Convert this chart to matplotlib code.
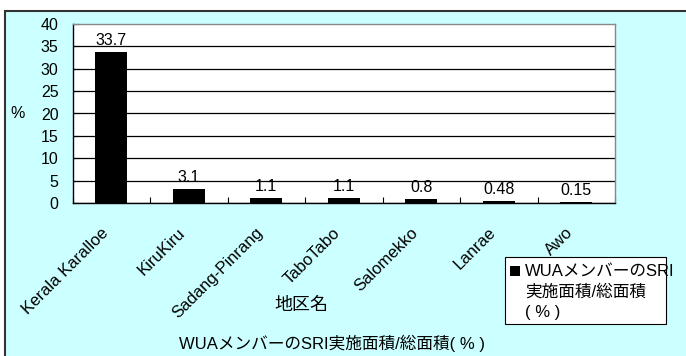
import matplotlib
matplotlib.use("Agg")
import matplotlib.pyplot as plt
from matplotlib.patches import Rectangle
from matplotlib.transforms import ScaledTranslation

plt.rcParams["font.family"] = ["Liberation Sans", "Noto Sans CJK JP", "DejaVu Sans"]

# ---- data ----
districts = ["Kerala Karalloe", "KiruKiru", "Sadang-Pinrang", "TaboTabo",
             "Salomekko", "Lanrae", "Awo"]
sri_ratio = [33.7, 3.1, 1.1, 1.1, 0.8, 0.48, 0.15]
value_labels = ["33.7", "3.1", "1.1", "1.1", "0.8", "0.48", "0.15"]
y_ticks = [0, 5, 10, 15, 20, 25, 30, 35, 40]

x_title = "地区名"
chart_title = "WUAメンバーのSRI実施面積/総面積( % )"
legend_lines = ["WUAメンバーのSRI", "実施面積/総面積", "( % )"]

W, H = 686, 356
fig = plt.figure(figsize=(W / 100, H / 100), dpi=100)
fig.patch.set_facecolor("white")

def fx(px):
    return px / W

def fy(py):
    return 1 - py / H

# cyan chart area with dark frame (runs off the right/bottom edge)
frame = Rectangle((fx(5), -0.1), 1.2, fy(11) + 0.1, transform=fig.transFigure,
                  facecolor="#ccffff", edgecolor="#333333", lw=1.5, zorder=-10)
fig.patches.append(frame)

ax = fig.add_axes([fx(72.5), fy(203), fx(615) - fx(72.5), fy(24) - fy(203)])
ax.set_facecolor("white")

x = list(range(len(districts)))
bars = ax.bar(x, sri_ratio, width=0.41, color="black", zorder=3)
ax.bar_label(bars, labels=value_labels, padding=3, fontsize=11.5)

ax.set_xlim(-0.5, len(districts) - 0.5)
ax.set_ylim(0, 40)
ax.set_yticks(y_ticks)
ax.tick_params(axis="y", direction="in", length=4.5, width=0.8, pad=10,
               labelsize=11.5, right=False)
ax.set_xticks([i - 0.5 for i in range(len(districts) + 1)])
ax.tick_params(axis="x", direction="in", length=4.5, width=0.8, labelbottom=False)

ax.grid(axis="y", color="black", lw=0.9, zorder=1)
ax.get_ygridlines()[-1].set_visible(False)
ax.set_axisbelow(True)

for side in ["top", "right"]:
    ax.spines[side].set_color("#888888")
    ax.spines[side].set_linewidth(1.0)
for side in ["left", "bottom"]:
    ax.spines[side].set_color("black")
    ax.spines[side].set_linewidth(1.0)

# rotated category names
offset = ScaledTranslation(-11 / 100, -22 / 100, fig.dpi_scale_trans)
for i, name in enumerate(districts):
    ax.text(i, 0, name, rotation=45, ha="right", va="top", rotation_mode="anchor",
            fontsize=12, transform=ax.get_xaxis_transform() + offset)

fig.text(fx(18), fy(114), "%", ha="center", va="center", fontsize=11.5)
fig.text(fx(301), fy(305), x_title, ha="center", va="center", fontsize=13)
fig.text(fx(332), fy(343), chart_title, ha="center", va="center", fontsize=12)

# legend box
leg_box = Rectangle((fx(505), fy(324)), fx(666) - fx(505), fy(257) - fy(324),
                    transform=fig.transFigure, facecolor="white", edgecolor="black",
                    lw=0.8, zorder=2)
fig.patches.append(leg_box)
leg_key = Rectangle((fx(510), fy(276)), fx(520) - fx(510), fy(266) - fy(276),
                    transform=fig.transFigure, facecolor="black", edgecolor="none",
                    zorder=3)
fig.patches.append(leg_key)
for k, line in enumerate(legend_lines):
    fig.text(fx(525), fy(272 + 20 * k), line, ha="left", va="center", fontsize=12)

fig.savefig("out.png", dpi=100)
